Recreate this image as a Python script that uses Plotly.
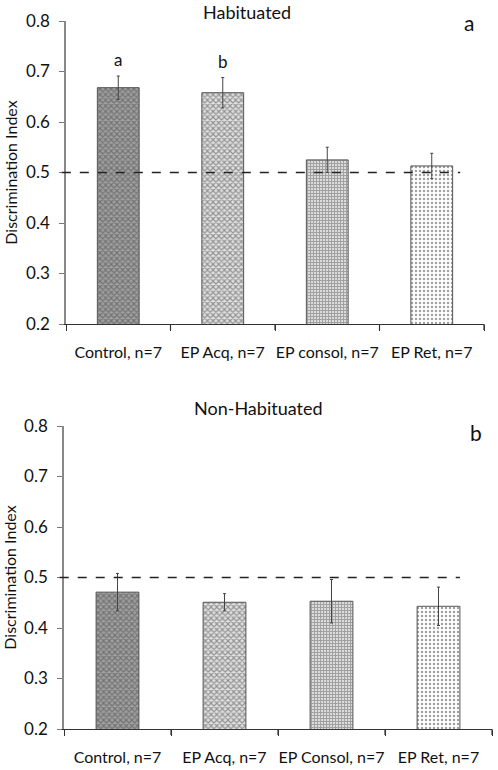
import plotly.graph_objects as go

cats_top = ["Control, n=7", "EP Acq, n=7", "EP consol, n=7", "EP Ret, n=7"]
vals_top = [0.668, 0.658, 0.525, 0.513]
err_top = [0.023, 0.030, 0.025, 0.025]
letters_top = ["a", "b", "", ""]

cats_bot = ["Control, n=7", "EP Acq, n=7", "EP Consol, n=7", "EP Ret, n=7"]
vals_bot = [0.471, 0.451, 0.453, 0.443]
err_bot = [0.037, 0.017, 0.043, 0.038]

yticks = [0.2, 0.3, 0.4, 0.5, 0.6, 0.7, 0.8]
chance = 0.5

FONT = "Lato"

bg = ["#a0a0a0", "#e0e0e0", "#ffffff", "#ffffff"]
fg = ["#606060", "#b0b0b0", "#000000", "#a8a8a8"]
shapes = ["x", "x", "+", "."]
sizes = [4, 4, 3, 4]
solid = [0.5, 0.5, 0.7, 0.3]

fig = go.Figure()

def add_bars(cats, vals, errs, xa, ya, texts=None):
    fig.add_trace(go.Bar(
        x=cats, y=vals, xaxis=xa, yaxis=ya, width=0.4,
        marker=dict(color=bg, line=dict(color="#555555", width=1),
                    pattern=dict(shape=shapes, fgcolor=fg, bgcolor=bg,
                                 size=sizes, solidity=solid, fillmode="overlay")),
        error_y=dict(type="data", array=errs, color="#444444", thickness=1, width=1.5),
        showlegend=False, hoverinfo="skip"))
    if texts:
        fig.add_trace(go.Scatter(
            x=cats, y=[v + e + 0.028 for v, e in zip(vals, errs)], xaxis=xa, yaxis=ya,
            mode="text", text=texts, textfont=dict(family=FONT, size=17, color="#111"),
            showlegend=False, hoverinfo="skip"))

add_bars(cats_top, vals_top, err_top, "x", "y", letters_top)
add_bars(cats_bot, vals_bot, err_bot, "x2", "y2")

xcommon = dict(type="category", tickson="boundaries", ticks="outside", ticklen=6,
               tickwidth=1.2, tickcolor="#333", showline=True, linecolor="#333",
               linewidth=1.2, showgrid=False, zeroline=False, range=[-0.5, 3.5],
               automargin=False, tickangle=0, ticklabelstandoff=14,
               tickfont=dict(family=FONT, size=16, color="#111"))
ycommon = dict(range=[0.2, 0.8], tickvals=yticks, tickformat=".1f", ticks="outside",
               ticklen=5, tickcolor="#777", showline=True, linecolor="#888",
               linewidth=1.5, showgrid=False, zeroline=False, automargin=False,
               ticklabelstandoff=6,
               tickfont=dict(family=FONT, size=17, color="#111"),
               title=dict(text="Discrimination Index", standoff=5,
                          font=dict(family=FONT, size=16, color="#111")))

fig.update_layout(
    width=498, height=770, margin=dict(l=0, r=0, t=0, b=0, autoexpand=False),
    template="none",
    plot_bgcolor="white", paper_bgcolor="white",
    xaxis=dict(domain=[66/498, 484/498], anchor="y", **xcommon),
    yaxis=dict(domain=[(770-324)/770, (770-21)/770], anchor="x", **ycommon),
    xaxis2=dict(domain=[64/498, 492/498], anchor="y2", **xcommon),
    yaxis2=dict(domain=[(770-729)/770, (770-426)/770], anchor="x2", **ycommon),
    bargap=0.6,
)

for xr, yr, x1 in [("x domain", "y", 0.943), ("x2 domain", "y2", 0.925)]:
    fig.add_shape(type="line", xref=xr, yref=yr, x0=-0.01, x1=x1, y0=chance, y1=chance,
                  line=dict(color="#222", width=1.5, dash="dash"))

# category-boundary tick marks below each x axis (axis decoration)
for xr, yr in [("x domain", "y domain"), ("x2 domain", "y2 domain")]:
    for k in range(1, len(cats_top) + 1):
        fig.add_shape(type="line", xref=xr, yref=yr, x0=k / len(cats_top), x1=k / len(cats_top),
                      y0=0, y1=-0.02, line=dict(color="#333", width=1.2))

anns = [
    dict(text="Habituated", x=247, y=12, size=18),
    dict(text="a", x=469, y=23, size=21),
    dict(text="Non-Habituated", x=258, y=408, size=18),
    dict(text="b", x=476, y=432, size=21),
]
for a in anns:
    fig.add_annotation(text=a["text"], xref="paper", yref="paper",
                       x=a["x"]/498, y=1 - a["y"]/770, showarrow=False,
                       xanchor="center", yanchor="middle",
                       font=dict(family=FONT, size=a["size"], color="#111"))

fig.write_html("out.html", config={"displayModeBar": False},
               post_script="document.body.style.margin='0';")
